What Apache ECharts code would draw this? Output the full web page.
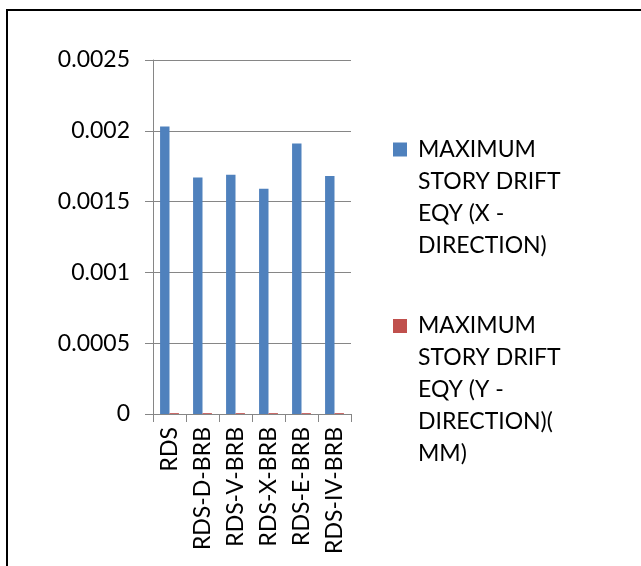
<!DOCTYPE html>
<html>
<head>
<meta charset="utf-8">
<script src="https://cdn.jsdelivr.net/npm/echarts@6/dist/echarts.min.js"></script>
<style>
  html, body { margin: 0; padding: 0; background: #ffffff; }
  #chart { width: 641px; height: 566px; }
</style>
</head>
<body>
<div id="chart"></div>
<script>
// Story drift per bracing configuration
const categories = ['RDS', 'RDS-D-BRB', 'RDS-V-BRB', 'RDS-X-BRB', 'RDS-E-BRB', 'RDS-IV-BRB'];
const driftX = [0.00203, 0.00167, 0.00169, 0.00159, 0.00191, 0.00168];
const driftY = [0.000006, 0.000006, 0.000006, 0.000006, 0.000006, 0.000006];
const seriesNames = [
  'MAXIMUM STORY DRIFT EQY (X - DIRECTION)',
  'MAXIMUM STORY DRIFT EQY (Y - DIRECTION)(MM)'
];
const legendLines = [
  ['MAXIMUM', 'STORY DRIFT', 'EQY (X -', 'DIRECTION)'],
  ['MAXIMUM', 'STORY DRIFT', 'EQY (Y -', 'DIRECTION)(', 'MM)']
];
const yTickLabels = ['0', '0.0005', '0.001', '0.0015', '0.002', '0.0025'];

const FONT = 'Lato';
const FS = 23;
const LINE_H = 32;
const AXIS_GRAY = '#868686';
const colors = ['#4F81BD', '#C0504D'];

// Each legend entry: the label block is centred on the marker, so empty
// leading lines push the first text line level with the square.
function legendFor(i, iconTop) {
  const lines = legendLines[i];
  const total = lines.length * 2 - 1;
  const half = total * LINE_H / 2;
  const text = new Array(lines.length - 1).fill('').concat(lines).join('\n');
  return {
    orient: 'vertical',
    left: 393,
    top: iconTop + 7 - half,
    padding: 0,
    itemWidth: 14,
    itemHeight: 14,
    icon: 'rect',
    selectedMode: false,
    data: [{ name: seriesNames[i], itemStyle: { color: colors[i] } }],
    formatter: () => text,
    textStyle: {
      fontFamily: FONT,
      fontSize: FS,
      color: '#000',
      lineHeight: LINE_H,
      padding: [0, 0, 0, 6]
    }
  };
}

const chart = echarts.init(document.getElementById('chart'), null, { renderer: 'canvas' });
chart.setOption({
  backgroundColor: '#ffffff',
  animation: false,
  graphic: [{
    type: 'rect',
    shape: { x: 7, y: 10, width: 700, height: 620 },
    style: { fill: 'none', stroke: '#000', lineWidth: 2 },
    silent: true
  }],
  legend: [legendFor(0, 142.5), legendFor(1, 319)],
  grid: { left: 153, top: 60, width: 198, height: 354, containLabel: false },
  xAxis: {
    type: 'category',
    data: categories,
    axisLine: { show: true, lineStyle: { color: AXIS_GRAY, width: 1 } },
    axisTick: { show: true, length: 8, alignWithLabel: false, lineStyle: { color: AXIS_GRAY } },
    axisLabel: {
      rotate: 90,
      margin: 13,
      interval: 0,
      fontFamily: FONT,
      fontSize: FS,
      color: '#000'
    },
    splitLine: { show: false }
  },
  yAxis: {
    type: 'value',
    min: 0,
    max: 0.0025,
    interval: 0.0005,
    axisLine: { show: true, lineStyle: { color: AXIS_GRAY, width: 1 } },
    axisTick: { show: true, length: 8, lineStyle: { color: AXIS_GRAY } },
    axisLabel: {
      margin: 23,
      fontFamily: FONT,
      fontSize: FS,
      color: '#000',
      formatter: v => yTickLabels[Math.round(v / 0.0005)]
    },
    splitLine: { show: true, lineStyle: { color: AXIS_GRAY, width: 1 } }
  },
  series: [
    {
      name: seriesNames[0],
      type: 'bar',
      data: driftX,
      barGap: '0%',
      barCategoryGap: '42.86%',
      itemStyle: { color: colors[0] }
    },
    {
      name: seriesNames[1],
      type: 'bar',
      data: driftY,
      barGap: '0%',
      barCategoryGap: '42.86%',
      itemStyle: { color: colors[1] }
    }
  ]
});
</script>
</body>
</html>
